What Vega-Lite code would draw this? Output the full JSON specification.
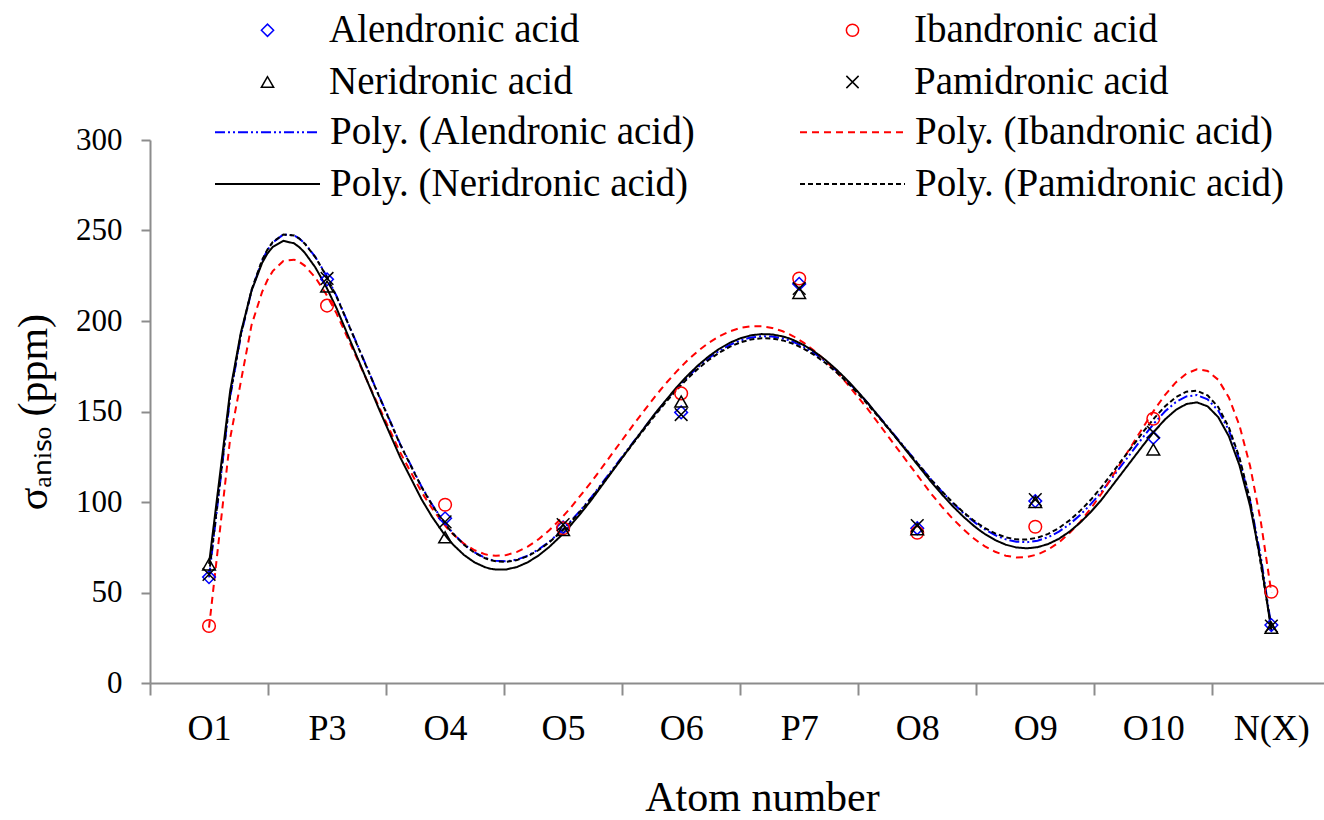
{
  "$schema": "https://vega.github.io/schema/vega-lite/v6.json",
  "width": 1174,
  "height": 543,
  "autosize": {"type": "none"},
  "padding": {"left": 150, "top": 140, "right": 0, "bottom": 137},
  "background": "white",
  "config": {
    "font": "Liberation Serif",
    "view": {"stroke": null}
  },
  "data": {
    "values": [
      {"series": "Alendronic acid", "trend": "Poly. (Alendronic acid)", "atom": "O1", "pos": 1, "sigma": 58.5},
      {"series": "Alendronic acid", "trend": "Poly. (Alendronic acid)", "atom": "P3", "pos": 2, "sigma": 223},
      {"series": "Alendronic acid", "trend": "Poly. (Alendronic acid)", "atom": "O4", "pos": 3, "sigma": 91},
      {"series": "Alendronic acid", "trend": "Poly. (Alendronic acid)", "atom": "O5", "pos": 4, "sigma": 86},
      {"series": "Alendronic acid", "trend": "Poly. (Alendronic acid)", "atom": "O6", "pos": 5, "sigma": 149.5},
      {"series": "Alendronic acid", "trend": "Poly. (Alendronic acid)", "atom": "P7", "pos": 6, "sigma": 220.5},
      {"series": "Alendronic acid", "trend": "Poly. (Alendronic acid)", "atom": "O8", "pos": 7, "sigma": 85.5},
      {"series": "Alendronic acid", "trend": "Poly. (Alendronic acid)", "atom": "O9", "pos": 8, "sigma": 100.5},
      {"series": "Alendronic acid", "trend": "Poly. (Alendronic acid)", "atom": "O10", "pos": 9, "sigma": 135.5},
      {"series": "Alendronic acid", "trend": "Poly. (Alendronic acid)", "atom": "N(X)", "pos": 10, "sigma": 32},
      {"series": "Ibandronic acid", "trend": "Poly. (Ibandronic acid)", "atom": "O1", "pos": 1, "sigma": 31.5},
      {"series": "Ibandronic acid", "trend": "Poly. (Ibandronic acid)", "atom": "P3", "pos": 2, "sigma": 208.5},
      {"series": "Ibandronic acid", "trend": "Poly. (Ibandronic acid)", "atom": "O4", "pos": 3, "sigma": 98.5},
      {"series": "Ibandronic acid", "trend": "Poly. (Ibandronic acid)", "atom": "O5", "pos": 4, "sigma": 85.5},
      {"series": "Ibandronic acid", "trend": "Poly. (Ibandronic acid)", "atom": "O6", "pos": 5, "sigma": 160},
      {"series": "Ibandronic acid", "trend": "Poly. (Ibandronic acid)", "atom": "P7", "pos": 6, "sigma": 223.5},
      {"series": "Ibandronic acid", "trend": "Poly. (Ibandronic acid)", "atom": "O8", "pos": 7, "sigma": 83},
      {"series": "Ibandronic acid", "trend": "Poly. (Ibandronic acid)", "atom": "O9", "pos": 8, "sigma": 86.3},
      {"series": "Ibandronic acid", "trend": "Poly. (Ibandronic acid)", "atom": "O10", "pos": 9, "sigma": 146},
      {"series": "Ibandronic acid", "trend": "Poly. (Ibandronic acid)", "atom": "N(X)", "pos": 10, "sigma": 50.4},
      {"series": "Neridronic acid", "trend": "Poly. (Neridronic acid)", "atom": "O1", "pos": 1, "sigma": 65.5},
      {"series": "Neridronic acid", "trend": "Poly. (Neridronic acid)", "atom": "P3", "pos": 2, "sigma": 219},
      {"series": "Neridronic acid", "trend": "Poly. (Neridronic acid)", "atom": "O4", "pos": 3, "sigma": 80.5},
      {"series": "Neridronic acid", "trend": "Poly. (Neridronic acid)", "atom": "O5", "pos": 4, "sigma": 84.5},
      {"series": "Neridronic acid", "trend": "Poly. (Neridronic acid)", "atom": "O6", "pos": 5, "sigma": 155.5},
      {"series": "Neridronic acid", "trend": "Poly. (Neridronic acid)", "atom": "P7", "pos": 6, "sigma": 215.5},
      {"series": "Neridronic acid", "trend": "Poly. (Neridronic acid)", "atom": "O8", "pos": 7, "sigma": 85},
      {"series": "Neridronic acid", "trend": "Poly. (Neridronic acid)", "atom": "O9", "pos": 8, "sigma": 100},
      {"series": "Neridronic acid", "trend": "Poly. (Neridronic acid)", "atom": "O10", "pos": 9, "sigma": 129},
      {"series": "Neridronic acid", "trend": "Poly. (Neridronic acid)", "atom": "N(X)", "pos": 10, "sigma": 30.5},
      {"series": "Pamidronic acid", "trend": "Poly. (Pamidronic acid)", "atom": "O1", "pos": 1, "sigma": 60},
      {"series": "Pamidronic acid", "trend": "Poly. (Pamidronic acid)", "atom": "P3", "pos": 2, "sigma": 223.5},
      {"series": "Pamidronic acid", "trend": "Poly. (Pamidronic acid)", "atom": "O4", "pos": 3, "sigma": 89},
      {"series": "Pamidronic acid", "trend": "Poly. (Pamidronic acid)", "atom": "O5", "pos": 4, "sigma": 87.5},
      {"series": "Pamidronic acid", "trend": "Poly. (Pamidronic acid)", "atom": "O6", "pos": 5, "sigma": 148.3},
      {"series": "Pamidronic acid", "trend": "Poly. (Pamidronic acid)", "atom": "P7", "pos": 6, "sigma": 218},
      {"series": "Pamidronic acid", "trend": "Poly. (Pamidronic acid)", "atom": "O8", "pos": 7, "sigma": 87},
      {"series": "Pamidronic acid", "trend": "Poly. (Pamidronic acid)", "atom": "O9", "pos": 8, "sigma": 101.3},
      {"series": "Pamidronic acid", "trend": "Poly. (Pamidronic acid)", "atom": "O10", "pos": 9, "sigma": 138.5},
      {"series": "Pamidronic acid", "trend": "Poly. (Pamidronic acid)", "atom": "N(X)", "pos": 10, "sigma": 31.5}
    ]
  },
  "encoding": {
    "x": {
      "field": "pos",
      "type": "quantitative",
      "scale": {"domain": [0.5, 10.446], "nice": false, "zero": false},
      "axis": {
        "orient": "bottom",
        "title": "Atom number",
        "values": [0.5, 1.5, 2.5, 3.5, 4.5, 5.5, 6.5, 7.5, 8.5, 9.5],
        "labelExpr": "['O1','P3','O4','O5','O6','P7','O8','O9','O10','N(X)'][floor(datum.value)]",
        "labelOffset": 59,
        "grid": false,
        "domainColor": "#8c8c8c",
        "domainWidth": 2,
        "tickColor": "#8c8c8c",
        "tickWidth": 2,
        "tickSize": 12,
        "labelFontSize": 36,
        "labelColor": "black",
        "labelPadding": 16,
        "labelOverlap": false,
        "labelBound": false,
        "labelFlush": false,
        "titleFontSize": 42,
        "titleFontWeight": "normal",
        "titleColor": "black",
        "titleX": 612,
        "titleY": 127,
        "titleAlign": "center",
        "titleBaseline": "alphabetic"
      }
    },
    "y": {
      "field": "sigma",
      "type": "quantitative",
      "scale": {"domain": [0, 300], "nice": false},
      "axis": {
        "orient": "left",
        "title": "σₐₙᵢₛₒ (ppm)",
        "values": [0, 50, 100, 150, 200, 250, 300],
        "grid": false,
        "domainColor": "#8c8c8c",
        "domainWidth": 2,
        "tickColor": "#8c8c8c",
        "tickWidth": 2,
        "tickSize": 9,
        "labelFontSize": 31,
        "labelColor": "black",
        "labelPadding": 19,
        "titleFontSize": 42,
        "titleFontWeight": "normal",
        "titleColor": "black",
        "titlePadding": 20
      }
    }
  },
  "resolve": {"scale": {"color": "independent", "shape": "independent", "strokeDash": "independent"}},
  "layer": [
    {
      "transform": [
        {"regression": "sigma", "on": "pos", "method": "poly", "order": 6, "groupby": ["trend"]}
      ],
      "mark": {"type": "line", "strokeWidth": 2},
      "encoding": {
        "color": {
          "field": "trend",
          "type": "nominal",
          "scale": {
            "domain": ["Poly. (Alendronic acid)", "Poly. (Neridronic acid)", "Poly. (Ibandronic acid)", "Poly. (Pamidronic acid)"],
            "range": ["#0000ff", "#000000", "#ff0000", "#000000"]
          },
          "legend": {
            "orient": "none",
            "direction": "vertical",
            "legendX": 65,
            "legendY": -27.5,
            "columns": 2,
            "title": null,
            "padding": 0,
            "labelFont": "Liberation Serif",
            "labelFontSize": 39,
            "labelColor": "black",
            "labelLimit": 1000,
            "labelOffset": 76,
            "symbolType": "M-1.054,0L4.622,0",
            "symbolSize": 1369,
            "symbolStrokeWidth": 2,
            "columnPadding": 101,
            "rowPadding": 12
          }
        },
        "strokeDash": {
          "field": "trend",
          "type": "nominal",
          "scale": {
            "domain": ["Poly. (Alendronic acid)", "Poly. (Neridronic acid)", "Poly. (Ibandronic acid)", "Poly. (Pamidronic acid)"],
            "range": [[10, 3, 2, 3, 2, 3], [1, 0], [7, 5], [5, 3]]
          },
          "legend": {
            "orient": "none",
            "direction": "vertical",
            "legendX": 65,
            "legendY": -27.5,
            "columns": 2,
            "title": null,
            "padding": 0,
            "labelFont": "Liberation Serif",
            "labelFontSize": 39,
            "labelColor": "black",
            "labelLimit": 1000,
            "labelOffset": 76,
            "symbolType": "M-1.054,0L4.622,0",
            "symbolSize": 1369,
            "symbolStrokeWidth": 2,
            "columnPadding": 101,
            "rowPadding": 12
          }
        }
      }
    },
    {
      "mark": {"type": "point", "filled": false, "size": 160, "strokeWidth": 1.5, "opacity": 1},
      "encoding": {
        "color": {
          "field": "series",
          "type": "nominal",
          "scale": {
            "domain": ["Alendronic acid", "Neridronic acid", "Ibandronic acid", "Pamidronic acid"],
            "range": ["#0000ff", "#000000", "#ff0000", "#000000"]
          },
          "legend": {
            "orient": "none",
            "direction": "vertical",
            "legendX": 98,
            "legendY": -129.5,
            "columns": 2,
            "title": null,
            "padding": 0,
            "labelFont": "Liberation Serif",
            "labelFontSize": 39,
            "labelColor": "black",
            "labelLimit": 1000,
            "labelOffset": 42,
            "symbolSize": 150,
            "symbolStrokeWidth": 1.5,
            "columnPadding": 253,
            "rowPadding": 12
          }
        },
        "shape": {
          "field": "series",
          "type": "nominal",
          "scale": {
            "domain": ["Alendronic acid", "Neridronic acid", "Ibandronic acid", "Pamidronic acid"],
            "range": ["diamond", "triangle-up", "circle", "M-1,-1L1,1M-1,1L1,-1"]
          },
          "legend": {
            "orient": "none",
            "direction": "vertical",
            "legendX": 98,
            "legendY": -129.5,
            "columns": 2,
            "title": null,
            "padding": 0,
            "labelFont": "Liberation Serif",
            "labelFontSize": 39,
            "labelColor": "black",
            "labelLimit": 1000,
            "labelOffset": 42,
            "symbolSize": 150,
            "symbolStrokeWidth": 1.5,
            "columnPadding": 253,
            "rowPadding": 12
          }
        }
      }
    }
  ]
}
